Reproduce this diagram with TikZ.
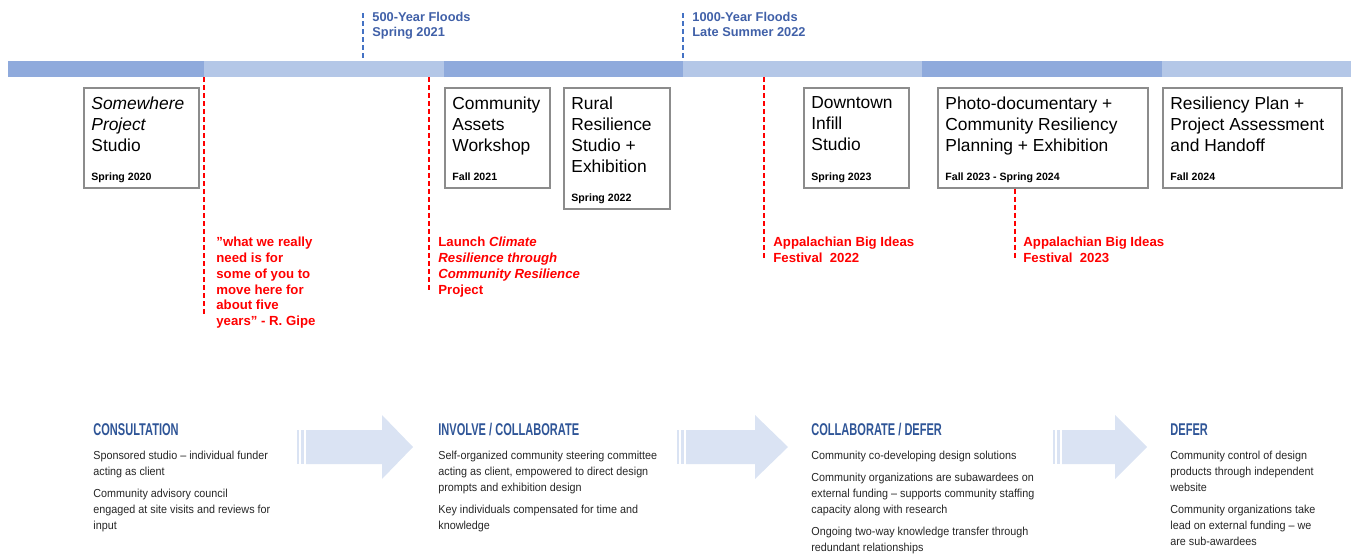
\documentclass[tikz,border=0pt]{standalone}
\usepackage{fontspec}
\setmainfont{Liberation Sans}
\newfontfamily\narrowfont[FakeStretch=0.93]{Liberation Sans}
\newfontfamily\headfont[FakeStretch=0.65]{Liberation Sans}
\usepackage{tikz}
\usetikzlibrary{calc}
\usetikzlibrary{math}

\definecolor{bardark}{HTML}{8FAADC}
\definecolor{barlight}{HTML}{B4C7E7}
\definecolor{floodblue}{RGB}{64,96,168}
\definecolor{dashblue}{HTML}{4472C4}
\definecolor{headblue}{HTML}{2F5597}
\definecolor{arrowblue}{HTML}{DAE3F3}
\definecolor{boxgray}{RGB}{140,140,140}
\definecolor{eventred}{RGB}{255,0,0}
\definecolor{bodygray}{RGB}{38,38,38}

\tikzset{
  stagebox/.style={draw=boxgray, line width=0.8pt, fill=white, inner sep=0pt, anchor=north west},
  stagetitle/.style={anchor=north west, inner sep=0pt, align=left, font=\fontsize{8.7}{10.5}\selectfont},
  stagedate/.style={anchor=base west, inner sep=0pt, font=\fontsize{5.3}{6}\selectfont\bfseries},
  floodlabel/.style={anchor=north west, inner sep=0pt, align=left, text=floodblue, font=\fontsize{6.4}{7.5}\selectfont\bfseries},
  eventlabel/.style={anchor=north west, inner sep=0pt, align=left, text=eventred, font=\fontsize{6.6}{7.85}\selectfont\bfseries},
  floodline/.style={draw=dashblue, line width=0.6pt, dash pattern=on 2.5pt off 1.5pt},
  eventline/.style={draw=eventred, line width=0.9pt, dash pattern=on 2.5pt off 1.5pt},
  phasehead/.style={anchor=base west, inner sep=0pt, text=headblue, font=\headfont\bfseries\fontsize{8.5}{10}\selectfont},
  phasetext/.style={anchor=north west, inner sep=0pt, align=left, text=bodygray, font=\narrowfont\fontsize{5.8}{8}\selectfont},
  phasearrow/.style={fill=arrowblue},
}

\begin{document}
\begin{tikzpicture}[x=0.5pt, y=-0.5pt]
  \useasboundingbox (0,0) rectangle (1351,557);
  \tikzmath{\bartop = 61; \barbot = 77; \arrtop = 430; \arrbot = 464; \headtop = 415; \headbot = 479; \arrmid = 447;}

  % timeline bar
  \fill[bardark] (8,\bartop) rectangle (204,\barbot);
  \fill[barlight] (204,\bartop) rectangle (444,\barbot);
  \fill[bardark] (444,\bartop) rectangle (683,\barbot);
  \fill[barlight] (683,\bartop) rectangle (922,\barbot);
  \fill[bardark] (922,\bartop) rectangle (1162,\barbot);
  \fill[barlight] (1162,\bartop) rectangle (1351,\barbot);

  % flood events above the bar
  \coordinate (f1top) at (363,13);
  \coordinate (f1bar) at (363,\bartop);
  \coordinate (f2top) at (683,13);
  \coordinate (f2bar) at (683,\bartop);
  \draw[floodline] (f1top) -- (f1bar);
  \draw[floodline] (f2top) -- (f2bar);
  \node[floodlabel] (flood1) at (372,12) {500-Year Floods\\Spring 2021};
  \node[floodlabel] (flood2) at (692,12) {1000-Year Floods\\Late Summer 2022};

  % stages
  \node[stagebox, minimum width=57.5pt, minimum height=50pt] (studio) at (83,87) {};
  \node[stagebox, minimum width=52.5pt, minimum height=50pt] (workshop) at (444,87) {};
  \node[stagebox, minimum width=53pt, minimum height=60.5pt] (rural) at (563,87) {};
  \node[stagebox, minimum width=52.5pt, minimum height=50pt] (infill) at (803,87) {};
  \node[stagebox, minimum width=105pt, minimum height=50pt] (photodoc) at (937,87) {};
  \node[stagebox, minimum width=89.5pt, minimum height=50pt] (handoff) at (1162,87) {};

  \node[stagetitle] (studiot) at ($(studio.north west)+(8,9)$) {\textit{Somewhere}\\\textit{Project}\\Studio};
  \node[stagetitle] (workshopt) at ($(workshop.north west)+(8,9)$) {Community\\Assets\\Workshop};
  \node[stagetitle] (ruralt) at ($(rural.north west)+(8,9)$) {Rural\\Resilience\\Studio +\\Exhibition};
  \node[stagetitle] (infillt) at ($(infill.north west)+(8,9)$) {Downtown\\Infill\\Studio};
  \node[stagetitle] (photodoct) at ($(photodoc.north west)+(8,9)$) {Photo-documentary +\\Community Resiliency\\Planning + Exhibition};
  \node[stagetitle] (handofft) at ($(handoff.north west)+(8,9)$) {Resiliency Plan +\\Project Assessment\\and Handoff};

  \node[stagedate] (studiod) at ($(studio.south west)+(8,-8)$) {Spring 2020};
  \node[stagedate] (workshopd) at ($(workshop.south west)+(8,-8)$) {Fall 2021};
  \node[stagedate] (rurald) at ($(rural.south west)+(8,-8)$) {Spring 2022};
  \node[stagedate] (infilld) at ($(infill.south west)+(8,-8)$) {Spring 2023};
  \node[stagedate] (photodocd) at ($(photodoc.south west)+(8,-8)$) {Fall 2023 - Spring 2024};
  \node[stagedate] (handoffd) at ($(handoff.south west)+(8,-8)$) {Fall 2024};

  % milestones below the bar
  \coordinate (e1) at (204,\barbot);
  \coordinate (e1end) at (204,315);
  \coordinate (e2) at (429,\barbot);
  \coordinate (e2end) at (429,292);
  \coordinate (e3) at (764,\barbot);
  \coordinate (e3end) at (764,258);
  \coordinate (e4end) at (1015,260);
  \draw[eventline] (e1) -- (e1end);
  \draw[eventline] (e2) -- (e2end);
  \draw[eventline] (e3) -- (e3end);
  \draw[eventline] (photodoc.south -| e4end) -- (e4end);
  \node[eventlabel] (quote) at (216,237) {"what we really\\need is for\\some of you to\\move here for\\about five\\years" - R. Gipe};
  \node[eventlabel] (launch) at (438,237) {Launch \textit{Climate}\\\textit{Resilience through}\\\textit{Community Resilience}\\Project};
  \node[eventlabel] (fest22) at (773,237) {Appalachian Big Ideas\\Festival~ 2022};
  \node[eventlabel] (fest23) at (1023,237) {Appalachian Big Ideas\\Festival~ 2023};

  % engagement phases
  \node[phasehead] (consult) at (93,435) {CONSULTATION};
  \node[phasehead] (involve) at (438,435) {INVOLVE / COLLABORATE};
  \node[phasehead] (collab) at (811,435) {COLLABORATE / DEFER};
  \node[phasehead] (defer) at (1170,435) {DEFER};

  \node[phasetext] (consultt) at (93,451) {Sponsored studio – individual funder\\acting as client\\[3pt]Community advisory council\\engaged at site visits and reviews for\\input};
  \node[phasetext] (involvet) at (438,451) {Self-organized community steering committee\\acting as client, empowered to direct design\\prompts and exhibition design\\[3pt]Key individuals compensated for time and\\knowledge};
  \node[phasetext] (collabt) at (811,451) {Community co-developing design solutions\\[3pt]Community organizations are subawardees on\\external funding – supports community staffing\\capacity along with research\\[3pt]Ongoing two-way knowledge transfer through\\redundant relationships};
  \node[phasetext] (defert) at (1170,451) {Community control of design\\products through independent\\website\\[3pt]Community organizations take\\lead on external funding – we\\are sub-awardees};

  % arrows between phases
  \fill[phasearrow] (297,\arrtop) rectangle (299,\arrbot);
  \fill[phasearrow] (301,\arrtop) rectangle (304,\arrbot);
  \fill[phasearrow] (306,\arrtop) -- (382,\arrtop) -- (382,\headtop) -- (413,\arrmid) -- (382,\headbot) -- (382,\arrbot) -- (306,\arrbot) -- cycle;
  \fill[phasearrow] (677,\arrtop) rectangle (679,\arrbot);
  \fill[phasearrow] (681,\arrtop) rectangle (684,\arrbot);
  \fill[phasearrow] (686,\arrtop) -- (755,\arrtop) -- (755,\headtop) -- (788,\arrmid) -- (755,\headbot) -- (755,\arrbot) -- (686,\arrbot) -- cycle;
  \fill[phasearrow] (1053,\arrtop) rectangle (1055,\arrbot);
  \fill[phasearrow] (1057,\arrtop) rectangle (1060,\arrbot);
  \fill[phasearrow] (1062,\arrtop) -- (1115,\arrtop) -- (1115,\headtop) -- (1147,\arrmid) -- (1115,\headbot) -- (1115,\arrbot) -- (1062,\arrbot) -- cycle;
\end{tikzpicture}
\end{document}
